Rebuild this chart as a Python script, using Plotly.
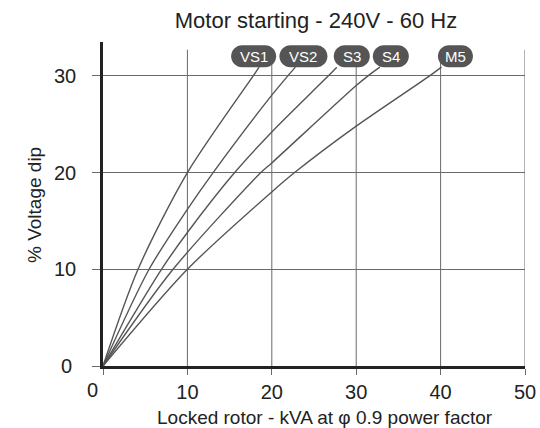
import plotly.graph_objects as go

# ---------------- data ----------------
series_names = ["VS1", "VS2", "S3", "S4", "M5"]

vs1_x = [0, 4.15, 10, 17.8, 18.5]
vs1_y = [0, 10, 20, 30, 30.9]

vs2_x = [0, 5.46, 10, 13.05, 20, 21.9, 22.8]
vs2_y = [0, 10, 16.2, 20, 28.0, 30, 30.9]

s3_x = [0, 6.93, 10, 15.6, 20, 26.7, 27.7]
s3_y = [0, 10, 13.8, 20, 24.2, 30, 30.9]

s4_x = [0, 8.3, 18.7, 20, 30, 31.4, 32.8]
s4_y = [0, 10, 20, 21.0, 29.0, 30, 30.9]

m5_x = [0, 10, 20, 22.7, 30, 38.7, 40.1]
m5_y = [0, 10, 18.0, 20, 24.8, 30, 30.9]

x_ticks = [0, 10, 20, 30, 40, 50]
x_tick_labels = ["0", "10", "20", "30", "40", "50"]
y_ticks = [0, 10, 20, 30]
y_tick_labels = ["0", "10", "20", "30"]

title_text = "Motor starting - 240V - 60 Hz"
x_title = "Locked rotor - kVA at φ 0.9 power factor"
y_title = "% Voltage dip"

# ---------------- style ----------------
FONT = "Liberation Sans, Arial, sans-serif"
TXT = "#222222"
GRID = "#6a6a6a"
CURVE = "#555555"
PILL = "#555555"

x_range = [0, 50]
y_range = [0, 33.5]
vgrid_top = 32.7
label_base_y = 30.9

# pill label pixel offsets (centre relative to curve end) and widths
label_dx = [-5.5, 8, 15, 11, 14]
label_w = [45, 48, 36, 36, 35]
pill_h = 22

series_x = [vs1_x, vs2_x, s3_x, s4_x, m5_x]
series_y = [vs1_y, vs2_y, s3_y, s4_y, m5_y]


def pill_path(cx, cy, w, h):
    r = h / 2.0
    k = 0.5523 * r
    x0 = cx - w / 2.0 + r
    x1 = cx + w / 2.0 - r
    yt = cy + r
    yb = cy - r
    return (
        f"M {x0},{yb} L {x1},{yb} "
        f"C {x1 + k},{yb} {x1 + r},{cy - k} {x1 + r},{cy} "
        f"C {x1 + r},{cy + k} {x1 + k},{yt} {x1},{yt} "
        f"L {x0},{yt} "
        f"C {x0 - k},{yt} {x0 - r},{cy + k} {x0 - r},{cy} "
        f"C {x0 - r},{cy - k} {x0 - k},{yb} {x0},{yb} Z"
    )


fig = go.Figure()

for name, xs, ys in zip(series_names, series_x, series_y):
    fig.add_trace(go.Scatter(
        x=xs, y=ys, mode="lines", name=name,
        line=dict(color=CURVE, width=1.4, shape="spline", smoothing=0.8),
        hoverinfo="skip", showlegend=False,
    ))

shapes = []
# vertical grid lines
for t in x_ticks[1:]:
    shapes.append(dict(type="line", xref="x", yref="y", x0=t, x1=t, y0=0, y1=vgrid_top,
                       line=dict(color=GRID, width=1), layer="below"))

annotations = []
for name, xs, dx, w in zip(series_names, series_x, label_dx, label_w):
    ex = xs[-1]
    shapes.append(dict(
        type="path", xref="x", yref="y", xsizemode="pixel", ysizemode="pixel",
        xanchor=ex, yanchor=label_base_y, path=pill_path(dx, pill_h / 2.0, w, pill_h),
        fillcolor=PILL, line=dict(width=0), layer="above",
    ))
    annotations.append(dict(
        x=ex, y=label_base_y, xref="x", yref="y", text=name, showarrow=False,
        xshift=dx, yshift=pill_h / 2.0, xanchor="center", yanchor="middle",
        font=dict(family=FONT, size=15, color="white"),
    ))

# "0" labels at the origin sit slightly apart from the other tick labels
annotations.append(dict(
    x=x_ticks[0], y=0, xref="x", yref="y", text=x_tick_labels[0], showarrow=False,
    xshift=-11, yshift=-24, xanchor="center", yanchor="middle",
    font=dict(family=FONT, size=20, color=TXT),
))
annotations.append(dict(
    x=0, y=y_ticks[0], xref="x", yref="y", text=y_tick_labels[0], showarrow=False,
    xshift=-29, yshift=0, xanchor="right", yanchor="middle",
    font=dict(family=FONT, size=20, color=TXT),
))
# axis titles
annotations.append(dict(
    x=0.526, y=-0.160, xref="paper", yref="paper", text=x_title, showarrow=False,
    xanchor="center", yanchor="middle", font=dict(family=FONT, size=19, color=TXT),
))
annotations.append(dict(
    x=-0.161, y=0.497, xref="paper", yref="paper", text=y_title, showarrow=False,
    textangle=-90, xanchor="center", yanchor="middle",
    font=dict(family=FONT, size=19, color=TXT),
))

FIG_W, FIG_H = 540, 428

fig.update_layout(
    width=FIG_W, height=FIG_H,
    margin=dict(l=103, r=15, t=42, b=62, autoexpand=False),
    paper_bgcolor="white", plot_bgcolor="white",
    font=dict(family=FONT, color=TXT),
    title=dict(text=title_text, x=316 / FIG_W, xref="container", xanchor="center",
               y=1 - 20 / FIG_H, yref="container", yanchor="middle",
               font=dict(family=FONT, size=22, color=TXT)),
    xaxis=dict(
        range=x_range, tickmode="array", tickvals=x_ticks,
        ticktext=[""] + x_tick_labels[1:],
        showgrid=False, zeroline=False, automargin=False,
        showline=True, linecolor=TXT, linewidth=2.5,
        ticks="outside", ticklen=6, tickcolor=GRID, tickwidth=1,
        tickfont=dict(family=FONT, size=20, color=TXT),
        fixedrange=True,
    ),
    yaxis=dict(
        range=y_range, tickmode="array", tickvals=y_ticks,
        ticktext=[""] + y_tick_labels[1:],
        showgrid=True, gridcolor=GRID, gridwidth=1, zeroline=False, automargin=False,
        showline=True, linecolor=TXT, linewidth=2.5,
        ticks="outside", ticklen=8, tickcolor=GRID, tickwidth=1,
        ticklabelstandoff=12,
        tickfont=dict(family=FONT, size=20, color=TXT),
        fixedrange=True,
    ),
    shapes=shapes,
    annotations=annotations,
)

fig.write_html(
    "out.html",
    config={"displayModeBar": False},
    post_script="document.body.style.margin='0';document.documentElement.style.overflow='hidden';",
)
